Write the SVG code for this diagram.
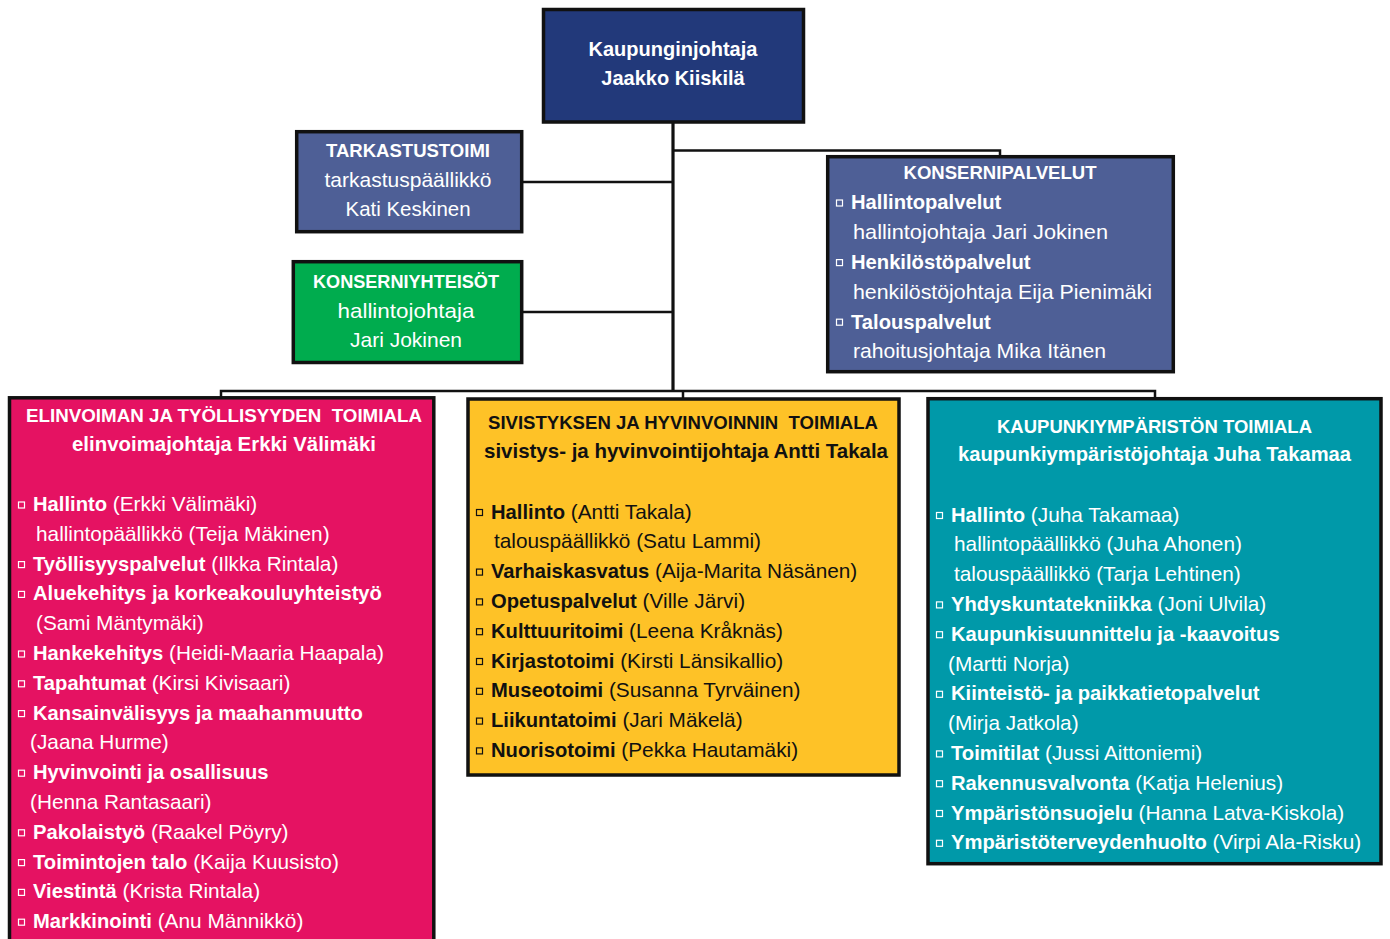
<svg xmlns="http://www.w3.org/2000/svg" width="1390" height="939" viewBox="0 0 1390 939">
<style>
text{font-family:"Liberation Sans",Arial,sans-serif;font-size:20.8px}
.w{fill:#fff}
.k{fill:#111}
.b{font-weight:bold;font-size:20.2px}
.h{font-weight:bold;font-size:19px;text-anchor:middle}
.m{text-anchor:middle}
.box{stroke:#111;stroke-width:3.5}
.bw{fill:none;stroke:#fff;stroke-width:1.2}
.bk{fill:none;stroke:#111;stroke-width:1.2}
.c{fill:none;stroke:#111;stroke-width:2.5}
</style>
<rect width="1390" height="939" fill="#fff"/>
<g id="connectors">
<path class="c" d="M673 122V391" style="stroke-width:3.2"/>
<path class="c" d="M673 150.5H1000V157"/>
<path class="c" d="M521.7 182H673"/>
<path class="c" d="M521.7 312H673"/>
<path class="c" d="M221 398V391H1155V398"/>
<path class="c" d="M683 391V399"/>
</g>
<g id="kaupunginjohtaja">
<rect class="box" x="543.5" y="9.5" width="260" height="112.5" fill="#22397A"/>
<text class="w b m" x="673" y="56" style="font-size:20px">Kaupunginjohtaja</text>
<text class="w b m" x="673" y="85" style="font-size:20px">Jaakko Kiiskilä</text>
</g>
<g id="tarkastustoimi">
<rect class="box" x="296.7" y="131.7" width="225" height="100" fill="#4E5F96"/>
<text class="w h" x="408" y="157" textLength="164" lengthAdjust="spacingAndGlyphs">TARKASTUSTOIMI</text>
<text class="w m" x="408" y="187" textLength="167" lengthAdjust="spacingAndGlyphs">tarkastuspäällikkö</text>
<text class="w m" x="408" y="216" textLength="125" lengthAdjust="spacingAndGlyphs">Kati Keskinen</text>
</g>
<g id="konserniyhteisot">
<rect class="box" x="293.3" y="261.7" width="228.4" height="100.8" fill="#00AC4E"/>
<text class="w h" x="406" y="288" textLength="186" lengthAdjust="spacingAndGlyphs">KONSERNIYHTEISÖT</text>
<text class="w m" x="406" y="318" textLength="137" lengthAdjust="spacingAndGlyphs">hallintojohtaja</text>
<text class="w m" x="406" y="347" textLength="112" lengthAdjust="spacingAndGlyphs">Jari Jokinen</text>
</g>
<g id="konsernipalvelut">
<rect class="box" x="827.7" y="156.7" width="345.6" height="215" fill="#4E5F96"/>
<text class="w h" x="1000" y="179" textLength="193" lengthAdjust="spacingAndGlyphs">KONSERNIPALVELUT</text>
<rect class="bw" x="836.5" y="200" width="6" height="6"/>
<text class="w b" x="851" y="209.3">Hallintopalvelut</text>
<text class="w" x="853" y="239.1" textLength="255" lengthAdjust="spacingAndGlyphs">hallintojohtaja Jari Jokinen</text>
<rect class="bw" x="836.5" y="259.6" width="6" height="6"/>
<text class="w b" x="851" y="268.9">Henkilöstöpalvelut</text>
<text class="w" x="853" y="298.7" textLength="299" lengthAdjust="spacingAndGlyphs">henkilöstöjohtaja Eija Pienimäki</text>
<rect class="bw" x="836.5" y="319.2" width="6" height="6"/>
<text class="w b" x="851" y="328.5">Talouspalvelut</text>
<text class="w" x="853" y="358.3" textLength="253" lengthAdjust="spacingAndGlyphs">rahoitusjohtaja Mika Itänen</text>
</g>
<g id="elinvoima">
<rect class="box" x="9.5" y="397.8" width="424.3" height="560" fill="#E51262"/>
<text class="w h" x="224" y="422" textLength="396" lengthAdjust="spacingAndGlyphs" xml:space="preserve">ELINVOIMAN JA TYÖLLISYYDEN  TOIMIALA</text>
<text class="w b m" x="224" y="451" textLength="304" lengthAdjust="spacingAndGlyphs">elinvoimajohtaja Erkki Välimäki</text>
<rect class="bw" x="18.5" y="502" width="6" height="6"/>
<text class="w" x="33" y="511"><tspan class="b">Hallinto</tspan> (Erkki Välimäki)</text>
<text class="w" x="36" y="540.8">hallintopäällikkö (Teija Mäkinen)</text>
<rect class="bw" x="18.5" y="561.6" width="6" height="6"/>
<text class="w" x="33" y="570.6"><tspan class="b">Työllisyyspalvelut</tspan> (Ilkka Rintala)</text>
<rect class="bw" x="18.5" y="591.4" width="6" height="6"/>
<text class="w b" x="33" y="600.4">Aluekehitys ja korkeakouluyhteistyö</text>
<text class="w" x="36" y="630.2">(Sami Mäntymäki)</text>
<rect class="bw" x="18.5" y="651" width="6" height="6"/>
<text class="w" x="33" y="660"><tspan class="b">Hankekehitys</tspan> (Heidi-Maaria Haapala)</text>
<rect class="bw" x="18.5" y="680.8" width="6" height="6"/>
<text class="w" x="33" y="689.8"><tspan class="b">Tapahtumat</tspan> (Kirsi Kivisaari)</text>
<rect class="bw" x="18.5" y="710.6" width="6" height="6"/>
<text class="w b" x="33" y="719.6">Kansainvälisyys ja maahanmuutto</text>
<text class="w" x="30" y="749.4">(Jaana Hurme)</text>
<rect class="bw" x="18.5" y="770.2" width="6" height="6"/>
<text class="w b" x="33" y="779.2">Hyvinvointi ja osallisuus</text>
<text class="w" x="30" y="809">(Henna Rantasaari)</text>
<rect class="bw" x="18.5" y="829.8" width="6" height="6"/>
<text class="w" x="33" y="838.8"><tspan class="b">Pakolaistyö</tspan> (Raakel Pöyry)</text>
<rect class="bw" x="18.5" y="859.6" width="6" height="6"/>
<text class="w" x="33" y="868.6"><tspan class="b">Toimintojen talo</tspan> (Kaija Kuusisto)</text>
<rect class="bw" x="18.5" y="889.4" width="6" height="6"/>
<text class="w" x="33" y="898.4"><tspan class="b">Viestintä</tspan> (Krista Rintala)</text>
<rect class="bw" x="18.5" y="919.2" width="6" height="6"/>
<text class="w" x="33" y="928.2"><tspan class="b">Markkinointi</tspan> (Anu Männikkö)</text>
</g>
<g id="sivistys">
<rect class="box" x="468" y="399" width="431" height="376" fill="#FEC227"/>
<text class="k h" x="683" y="429" textLength="390" lengthAdjust="spacingAndGlyphs" xml:space="preserve">SIVISTYKSEN JA HYVINVOINNIN  TOIMIALA</text>
<text class="k b m" x="686" y="458" textLength="404" lengthAdjust="spacingAndGlyphs">sivistys- ja hyvinvointijohtaja Antti Takala</text>
<rect class="bk" x="476.5" y="509.5" width="6" height="6"/>
<text class="k" x="491" y="518.5"><tspan class="b">Hallinto</tspan> (Antti Takala)</text>
<text class="k" x="494" y="548.3">talouspäällikkö (Satu Lammi)</text>
<rect class="bk" x="476.5" y="569.1" width="6" height="6"/>
<text class="k" x="491" y="578.1"><tspan class="b">Varhaiskasvatus</tspan> (Aija-Marita Näsänen)</text>
<rect class="bk" x="476.5" y="598.9" width="6" height="6"/>
<text class="k" x="491" y="607.9"><tspan class="b">Opetuspalvelut</tspan> (Ville Järvi)</text>
<rect class="bk" x="476.5" y="628.7" width="6" height="6"/>
<text class="k" x="491" y="637.7"><tspan class="b">Kulttuuritoimi</tspan> (Leena Kråknäs)</text>
<rect class="bk" x="476.5" y="658.5" width="6" height="6"/>
<text class="k" x="491" y="667.5"><tspan class="b">Kirjastotoimi</tspan> (Kirsti Länsikallio)</text>
<rect class="bk" x="476.5" y="688.3" width="6" height="6"/>
<text class="k" x="491" y="697.3"><tspan class="b">Museotoimi</tspan> (Susanna Tyrväinen)</text>
<rect class="bk" x="476.5" y="718.1" width="6" height="6"/>
<text class="k" x="491" y="727.1"><tspan class="b">Liikuntatoimi</tspan> (Jari Mäkelä)</text>
<rect class="bk" x="476.5" y="747.9" width="6" height="6"/>
<text class="k" x="491" y="756.9"><tspan class="b">Nuorisotoimi</tspan> (Pekka Hautamäki)</text>
</g>
<g id="kaupunkiymparisto">
<rect class="box" x="928" y="398.7" width="453" height="465" fill="#0099A9"/>
<text class="w h" x="1154.5" y="432.5" textLength="315" lengthAdjust="spacingAndGlyphs">KAUPUNKIYMPÄRISTÖN TOIMIALA</text>
<text class="w b m" x="1154.5" y="461" textLength="393" lengthAdjust="spacingAndGlyphs">kaupunkiympäristöjohtaja Juha Takamaa</text>
<rect class="bw" x="936.5" y="512.5" width="6" height="6"/>
<text class="w" x="951" y="521.5"><tspan class="b">Hallinto</tspan> (Juha Takamaa)</text>
<text class="w" x="954" y="551.3">hallintopäällikkö (Juha Ahonen)</text>
<text class="w" x="954" y="581.1">talouspäällikkö (Tarja Lehtinen)</text>
<rect class="bw" x="936.5" y="601.9" width="6" height="6"/>
<text class="w" x="951" y="610.9"><tspan class="b">Yhdyskuntatekniikka</tspan> (Joni Ulvila)</text>
<rect class="bw" x="936.5" y="631.7" width="6" height="6"/>
<text class="w b" x="951" y="640.7">Kaupunkisuunnittelu ja -kaavoitus</text>
<text class="w" x="948" y="670.5">(Martti Norja)</text>
<rect class="bw" x="936.5" y="691.3" width="6" height="6"/>
<text class="w b" x="951" y="700.3">Kiinteistö- ja paikkatietopalvelut</text>
<text class="w" x="948" y="730.1">(Mirja Jatkola)</text>
<rect class="bw" x="936.5" y="750.9" width="6" height="6"/>
<text class="w" x="951" y="759.9"><tspan class="b">Toimitilat</tspan> (Jussi Aittoniemi)</text>
<rect class="bw" x="936.5" y="780.7" width="6" height="6"/>
<text class="w" x="951" y="789.7"><tspan class="b">Rakennusvalvonta</tspan> (Katja Helenius)</text>
<rect class="bw" x="936.5" y="810.5" width="6" height="6"/>
<text class="w" x="951" y="819.5"><tspan class="b">Ympäristönsuojelu</tspan> (Hanna Latva-Kiskola)</text>
<rect class="bw" x="936.5" y="840.3" width="6" height="6"/>
<text class="w" x="951" y="849.3"><tspan class="b">Ympäristöterveydenhuolto</tspan> (Virpi Ala-Risku)</text>
</g>
</svg>
